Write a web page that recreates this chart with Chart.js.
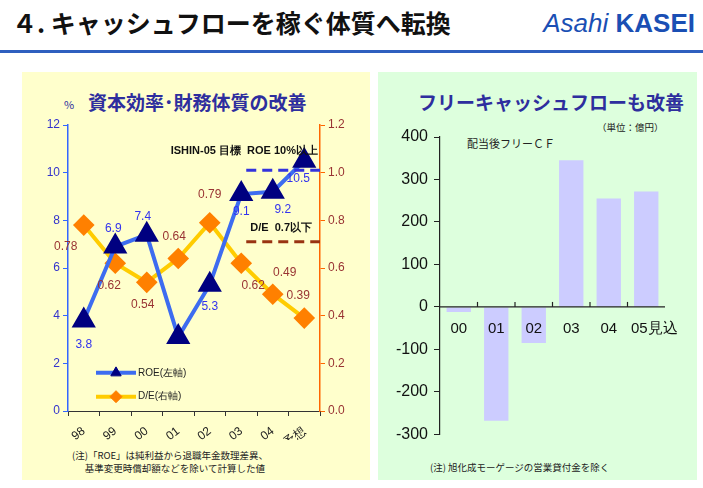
<!DOCTYPE html>
<html><head><meta charset="utf-8">
<script src="https://cdn.jsdelivr.net/npm/chart.js@4"></script>
<style>
body{margin:0;width:703px;height:488px;background:#fff;font-family:"Noto Sans CJK JP",sans-serif;position:relative;overflow:hidden}
.abs{position:absolute}
#title{left:12px;top:4px;font-size:25px;font-weight:bold;color:#111}
#logo{right:8px;top:8px;font-family:Arial,"Liberation Sans";font-size:26px;color:#1a4fb4;font-style:italic}
#rule{left:0;top:50px;width:703px;height:3px;background:#2f5fbf}
#lp{left:22px;top:72px;width:348px;height:408px;background:#ffffcc}
#rp{left:378px;top:72px;width:319px;height:408px;background:#ddffdd}
.h{font-weight:bold;font-size:19px;color:#2e2e9e}
.n{font-size:9.5px;color:#222}
</style></head><body>
<div id="title" class="abs">４. キャッシュフローを稼ぐ体質へ転換</div>
<div id="logo" class="abs">Asahi <b style="font-style:normal">KASEI</b></div>
<div id="rule" class="abs"></div>
<div id="lp" class="abs"></div>
<div id="rp" class="abs"></div>
<div class="abs" style="left:64px;top:96px;font-size:11px;color:#2e2e9e">%</div>
<div class="abs h" style="left:88px;top:88px">資本効率･財務体質の改善</div>
<div class="abs h" style="left:418px;top:88px">フリーキャッシュフローも改善</div>
<div class="abs n" style="left:597px;top:120px">（単位：億円）</div>
<div class="abs n" style="left:467px;top:135px;font-size:11px">配当後フリーＣＦ</div>
<div class="abs n" style="left:72px;top:449px;line-height:13px">(注)「ROE」は純利益から退職年金数理差異、<br>&nbsp;&nbsp;&nbsp;&nbsp;&nbsp;&nbsp;基準変更時償却額などを除いて計算した値</div>
<div class="abs n" style="left:430px;top:460px">(注) 旭化成モーゲージの営業貸付金を除く</div>
<canvas id="c1" class="abs" width="348" height="350" style="left:22px;top:90px"></canvas>
<canvas id="c2" class="abs" width="319" height="330" style="left:378px;top:120px"></canvas>
<script>
const years = ["98", "99", "00", "01", "02", "03", "04", "05予想"];
const roe = [3.8, 6.9, 7.4, 3.1, 5.3, 9.1, 9.2, 10.5];
const roeText = ["3.8", "6.9", "7.4", "", "5.3", "9.1", "9.2", "10.5"];
const de = [0.78, 0.62, 0.54, 0.64, 0.79, 0.62, 0.49, 0.39];
const cfYears = ["00", "01", "02", "03", "04", "05見込"];
const freeCF = [-12, -268, -85, 345, 255, 272];
const roeOffsets = [[0,24],[-2,-18],[-4,-18],[0,0],[0,22],[0,18],[10,18],[-6,18]];
const deOffsets = [[-18,22],[-6,22],[-4,22],[-4,-22],[0,-28],[12,22],[12,-22],[-6,-22]];

const fnt = '"Liberation Sans", Arial, sans-serif';
const leftPlug = {
  id: "left",
  afterDatasetsDraw(ch) {
    const c = ch.ctx, x = ch.scales.x, y = ch.scales.y, y2 = ch.scales.y2;
    c.save();
    c.font = "12px " + fnt; c.textAlign = "center"; c.textBaseline = "middle";
    ch.getDatasetMeta(0).data.forEach((p, i) => {
      c.fillStyle = "#3333ee";
      c.fillText(roeText[i], p.x + roeOffsets[i][0], p.y + roeOffsets[i][1]);
    });
    ch.getDatasetMeta(1).data.forEach((p, i) => {
      c.fillStyle = "#993333";
      c.fillText(de[i].toFixed(2), p.x + deOffsets[i][0], p.y + deOffsets[i][1]);
    });
    // target lines
    const xa = x.getPixelForValue(5) + 5, xb = ch.chartArea.right;
    c.setLineDash([10, 6]); c.lineWidth = 3;
    c.strokeStyle = "#3333dd"; c.beginPath();
    c.moveTo(xa, y.getPixelForValue(10.1)); c.lineTo(xb, y.getPixelForValue(10.1)); c.stroke();
    c.strokeStyle = "#993311"; c.beginPath();
    c.moveTo(xa, y2.getPixelForValue(0.71)); c.lineTo(xb, y2.getPixelForValue(0.71)); c.stroke();
    c.setLineDash([]);
    c.fillStyle = "#111"; c.textAlign = "right"; c.font = "bold 11px " + fnt;
    c.fillText("ISHIN-05 目標  ROE 10%以上", xb - 2, y.getPixelForValue(10.9));
    c.fillText("D/E  0.7以下", xb - 8, y2.getPixelForValue(0.77));
    // legend
    const lx = ch.chartArea.left + 48;
    [["ROE(左軸)", "#3d6cf0", "#000080", "triangle"], ["D/E(右軸)", "#ffcc00", "#ff8000", "rectRot"]].forEach((l, k) => {
      const ly = y.getPixelForValue(1.6 - k * 1);
      c.strokeStyle = l[1]; c.lineWidth = 4; c.beginPath(); c.moveTo(lx - 20, ly); c.lineTo(lx + 20, ly); c.stroke();
      c.fillStyle = l[2]; c.strokeStyle = l[2]; c.lineWidth = 1;
      Chart.helpers.drawPoint(c, {pointStyle: l[3], radius: 6, borderWidth: 1}, lx, ly);
      c.fillStyle = "#222"; c.textAlign = "left"; c.font = "10px " + fnt;
      c.fillText(l[0], lx + 22, ly);
    });
    c.restore();
  }
};
new Chart(document.getElementById("c1"), {
  type: "line",
  data: {
    labels: years,
    datasets: [
      {data: roe, yAxisID: "y", borderColor: "#3d6cf0", borderWidth: 4, pointStyle: "triangle",
       pointRadius: 10, pointBackgroundColor: "#000080", pointBorderColor: "#000080", order: 0},
      {data: de, yAxisID: "y2", borderColor: "#ffcc00", borderWidth: 4, pointStyle: "rectRot",
       pointRadius: 8, pointBackgroundColor: "#ff8000", pointBorderColor: "#ff8000", order: 1}
    ]
  },
  options: {
    responsive: false, animation: false, devicePixelRatio: 1,
    layout: {padding: {top: 35, left: 0, right: 0, bottom: 0}},
    plugins: {legend: {display: false}, tooltip: {enabled: false}},
    scales: {
      x: {offset: true, afterFit: s => { s.height = 29; },
          grid: {display: true, drawOnChartArea: false, offset: true, tickLength: 5, color: "#333"},
          border: {color: "#333", width: 1},
          ticks: {color: "#222", font: {size: 12, family: fnt}, padding: 8}},
      y: {min: 0, max: 12, position: "left", afterFit: s => { s.width = 46; },
          ticks: {stepSize: 2, color: "#3333cc", font: {size: 12, family: fnt}},
          grid: {drawOnChartArea: false, tickLength: 5, color: "#3366ff"},
          border: {color: "#3366ff", width: 1.5}},
      y2: {min: 0, max: 1.2, position: "right", afterFit: s => { s.width = 50; },
           ticks: {stepSize: 0.2, color: "#993333", font: {size: 12, family: fnt}, callback: v => v.toFixed(1)},
           grid: {drawOnChartArea: false, tickLength: 5, color: "#ff6600"},
           border: {color: "#ff6600", width: 1.5}}
    }
  },
  plugins: [leftPlug]
});

const rightPlug = {
  id: "right",
  afterDatasetsDraw(ch) {
    const c = ch.ctx, x = ch.scales.x, y = ch.scales.y, a = ch.chartArea;
    const y0 = y.getPixelForValue(0);
    c.save();
    c.strokeStyle = "#222"; c.lineWidth = 1.2;
    c.beginPath(); c.moveTo(a.left, y0); c.lineTo(a.right, y0); c.stroke();
    const w = (a.right - a.left) / cfYears.length;
    for (let i = 1; i < cfYears.length; i++) {
      c.beginPath(); c.moveTo(a.left + w * i, y0); c.lineTo(a.left + w * i, y0 - 5); c.stroke();
    }
    c.fillStyle = "#111"; c.font = "15px " + fnt; c.textAlign = "center"; c.textBaseline = "middle";
    cfYears.forEach((t, i) => c.fillText(t, x.getPixelForValue(i) + (i === 5 ? 8 : 0), y0 + 22));
    c.restore();
  }
};
new Chart(document.getElementById("c2"), {
  type: "bar",
  data: {labels: cfYears, datasets: [{data: freeCF, backgroundColor: "#ccccff", barPercentage: 0.65, categoryPercentage: 1}]},
  options: {
    responsive: false, animation: false, devicePixelRatio: 1,
    layout: {padding: {top: 17, right: 32, bottom: 10, left: 0}},
    plugins: {legend: {display: false}, tooltip: {enabled: false}},
    scales: {
      x: {display: false},
      y: {min: -300, max: 400, afterFit: s => { s.width = 62; },
          ticks: {stepSize: 100, color: "#111", font: {size: 16, family: fnt}, padding: 6},
          grid: {drawOnChartArea: false, tickLength: 6, color: "#222"},
          border: {color: "#222", width: 1.2}}
    }
  },
  plugins: [rightPlug]
});
</script>
</body></html>
